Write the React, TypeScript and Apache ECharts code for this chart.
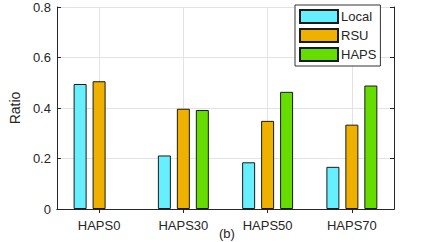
import React, { useEffect, useRef } from "react";
import * as echarts from "echarts";

const categories = ["HAPS0", "HAPS30", "HAPS50", "HAPS70"];
const localValues = [0.495, 0.212, 0.185, 0.167];
const rsuValues = [0.506, 0.397, 0.349, 0.334];
const hapsValues = [0, 0.392, 0.464, 0.489];
const yTicks = { min: 0, max: 0.8, interval: 0.2 };

const FONT = "Liberation Sans, Arial, Helvetica, sans-serif";
const TXT = "#262626";
const LINE = "#262626";

export default function App() {
  const ref = useRef<HTMLDivElement>(null);
  useEffect(() => {
    if (!ref.current) return;
    const chart = echarts.init(ref.current, undefined, { renderer: "svg" });
    const barItem = (color: string) => ({ color, borderColor: "#1a1a1a", borderWidth: 1 });
    const hideZero = (vals: number[]) =>
      vals.map((v) => (v === 0 ? { value: v, itemStyle: { borderWidth: 0, opacity: 0 } } : v));
    const tickStyle = { show: true, inside: true, length: 4, lineStyle: { color: LINE, width: 1 } };
    chart.setOption({
      animation: false,
      textStyle: { fontFamily: FONT },
      grid: { left: 56, right: 42, top: 7, bottom: 33, containLabel: false },
      legend: {
        orient: "vertical",
        left: 295,
        top: 5,
        padding: [4, 4, 4, 4],
        itemWidth: 38,
        itemHeight: 13,
        itemGap: 4,
        borderColor: "#333",
        borderWidth: 1,
        backgroundColor: "#fff",
        icon: "rect",
        textStyle: { fontFamily: FONT, fontSize: 13, color: TXT, padding: [0, 0, 0, -2] },
        data: ["Local", "RSU", "HAPS"],
      },
      xAxis: [
        {
          type: "category",
          data: categories,
          position: "bottom",
          axisLine: { show: true, lineStyle: { color: LINE, width: 1 } },
          axisTick: { ...tickStyle, alignWithLabel: true },
          axisLabel: { fontFamily: FONT, fontSize: 13, color: TXT, margin: 10 },
          splitLine: { show: true, alignWithLabel: true, lineStyle: { color: "#e3e3e3", width: 1 } },
        },
        {
          type: "category",
          data: categories,
          position: "top",
          axisLine: { show: true, lineStyle: { color: LINE, width: 1 } },
          axisTick: { ...tickStyle, alignWithLabel: true },
          axisLabel: { show: false },
          splitLine: { show: false },
        },
      ],
      yAxis: [
        {
          type: "value",
          ...yTicks,
          name: "Ratio",
          nameLocation: "middle",
          nameGap: 32,
          nameTextStyle: { fontFamily: FONT, fontSize: 14, color: TXT },
          axisLine: { show: true, lineStyle: { color: LINE, width: 1 } },
          axisTick: tickStyle,
          axisLabel: { fontFamily: FONT, fontSize: 13, color: TXT, margin: 6 },
          splitLine: { show: true, lineStyle: { color: "#e3e3e3", width: 1 } },
        },
        {
          type: "value",
          ...yTicks,
          position: "right",
          axisLine: { show: true, lineStyle: { color: LINE, width: 1 } },
          axisTick: tickStyle,
          axisLabel: { show: false },
          splitLine: { show: false },
        },
      ],
      series: [
        { name: "Local", type: "bar", data: localValues, barWidth: 13, barGap: "46%", itemStyle: barItem("#66efff") },
        { name: "RSU", type: "bar", data: rsuValues, barWidth: 13, barGap: "46%", itemStyle: barItem("#efb000") },
        { name: "HAPS", type: "bar", data: hideZero(hapsValues), barWidth: 13, barGap: "46%", itemStyle: barItem("#66dd00") },
      ],
      graphic: [
        {
          type: "text",
          left: 219,
          top: 227,
          style: { text: "(b)", font: `13px ${FONT}`, fill: TXT },
        },
      ],
    });
    return () => chart.dispose();
  }, []);
  return (
    <div
      ref={ref}
      style={{ position: "absolute", left: 0, top: 0, width: 436, height: 242, background: "#fff" }}
    />
  );
}
